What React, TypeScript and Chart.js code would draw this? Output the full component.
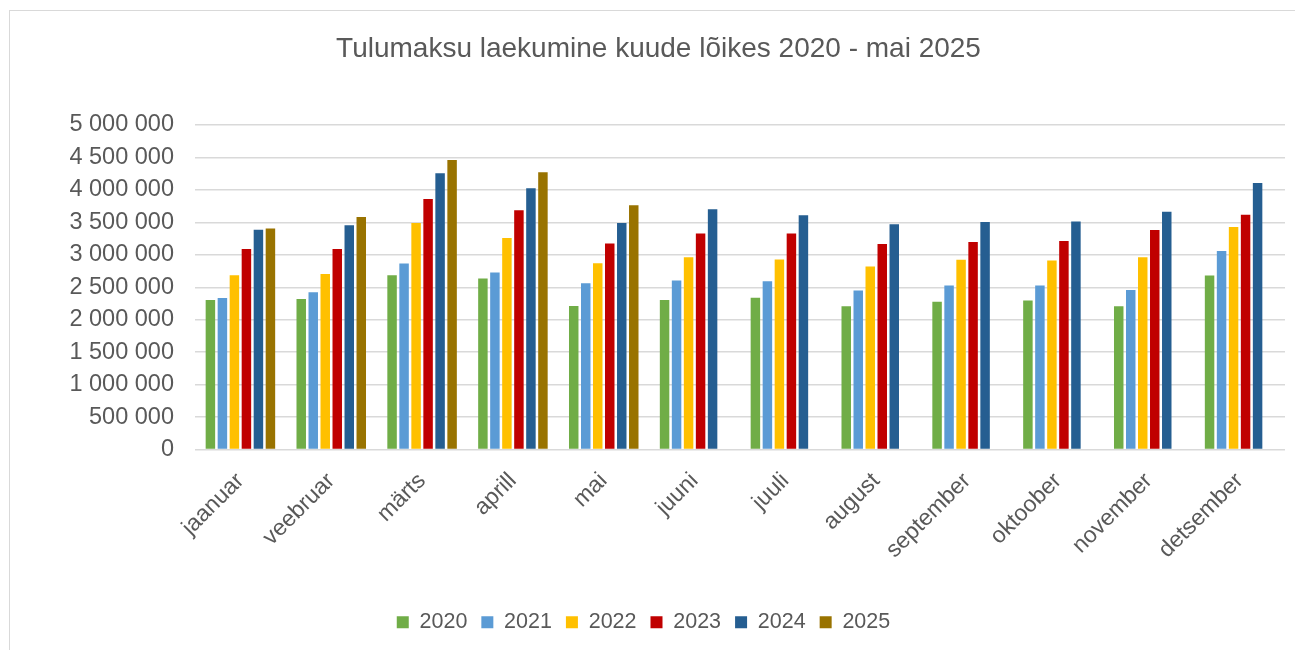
import React, { useEffect, useRef } from "react";
import { Chart, registerables } from "chart.js";

Chart.register(...registerables);

const months = [
  "jaanuar", "veebruar", "märts", "aprill", "mai", "juuni",
  "juuli", "august", "september", "oktoober", "november", "detsember",
];

const y2020 = [2304000, 2320000, 2686000, 2634000, 2211000, 2304000, 2340000, 2206000, 2278000, 2294000, 2206000, 2680000];
const y2021 = [2335000, 2423000, 2866000, 2727000, 2562000, 2603000, 2593000, 2448000, 2526000, 2526000, 2459000, 3057000];
const y2022 = [2686000, 2706000, 3490000, 3258000, 2871000, 2964000, 2928000, 2820000, 2923000, 2912000, 2964000, 3428000];
const y2023 = [3088000, 3088000, 3861000, 3686000, 3175000, 3330000, 3330000, 3165000, 3196000, 3211000, 3381000, 3619000];
const y2024 = [3387000, 3454000, 4258000, 4026000, 3490000, 3701000, 3608000, 3469000, 3505000, 3515000, 3665000, 4108000];
const y2025 = [3407000, 3582000, 4459000, 4273000, 3763000, null, null, null, null, null, null, null];

const seriesLabels = ["2020", "2021", "2022", "2023", "2024", "2025"];
const seriesColors = ["#70AD47", "#5B9BD5", "#FFC000", "#C00000", "#255E91", "#997300"];

const titleText = "Tulumaksu laekumine kuude lõikes 2020 - mai 2025";

const FONT = "'Liberation Sans', Arial, sans-serif";
const TEXT = "#595959";

function fmt(v: number): string {
  return Math.round(v).toString().replace(/\B(?=(\d{3})+(?!\d))/g, " ");
}

const shiftBlocks = {
  id: "shiftBlocks",
  afterLayout(chart: any) {
    if (chart.titleBlock) {
      chart.titleBlock.left += 22;
    }
    if (chart.legend) {
      chart.legend.left -= 4;
      chart.legend.right -= 4;
    }
  },
};

export default function App() {
  const ref = useRef<HTMLCanvasElement | null>(null);

  useEffect(() => {
    if (!ref.current) return;
    const values = [y2020, y2021, y2022, y2023, y2024, y2025];
    const chart = new Chart(ref.current, {
      type: "bar",
      data: {
        labels: months,
        datasets: values.map((d, i) => ({
          label: seriesLabels[i],
          data: d,
          backgroundColor: seriesColors[i],
          borderWidth: 0,
          barPercentage: 0.79,
          categoryPercentage: 0.793,
        })),
      },
      plugins: [shiftBlocks],
      options: {
        responsive: false,
        animation: false,
        maintainAspectRatio: false,
        layout: { padding: { left: 0, right: 15, top: 0, bottom: 8 } },
        plugins: {
          title: {
            display: true,
            text: titleText,
            color: TEXT,
            font: { family: FONT, size: 28, weight: "normal", lineHeight: 1.2 },
            padding: { top: 21, bottom: 59.4 },
          },
          legend: {
            display: true,
            position: "bottom",
            labels: {
              color: TEXT,
              font: { family: FONT, size: 21.5 },
              boxWidth: 12,
              boxHeight: 12,
              padding: 14,
            },
          },
          tooltip: { enabled: false },
        },
        scales: {
          x: {
            grid: { display: false },
            border: { display: false },
            ticks: {
              color: TEXT,
              font: { family: FONT, size: 23 },
              maxRotation: 45,
              minRotation: 45,
              padding: 10,
              autoSkip: false,
            },
            afterFit: (s: any) => {
              s.height = 148;
            },
          },
          y: {
            min: 0,
            max: 5000000,
            grid: { color: "#d9d9d9", lineWidth: 1.5, drawTicks: false },
            border: { display: false },
            ticks: {
              stepSize: 500000,
              color: TEXT,
              font: { family: FONT, size: 23.5 },
              padding: 21,
              callback: (v: any) => fmt(Number(v)),
            },
            afterFit: (s: any) => {
              s.width = 185;
            },
          },
        },
      },
    });
    return () => chart.destroy();
  }, []);

  return (
    <div
      style={{
        position: "fixed",
        left: 9,
        top: 10,
        width: 1300,
        height: 660,
        border: "1px solid #d9d9d9",
        boxSizing: "border-box",
        background: "#fff",
      }}
    >
      <canvas ref={ref} width={1290} height={640} style={{ display: "block" }} />
    </div>
  );
}
